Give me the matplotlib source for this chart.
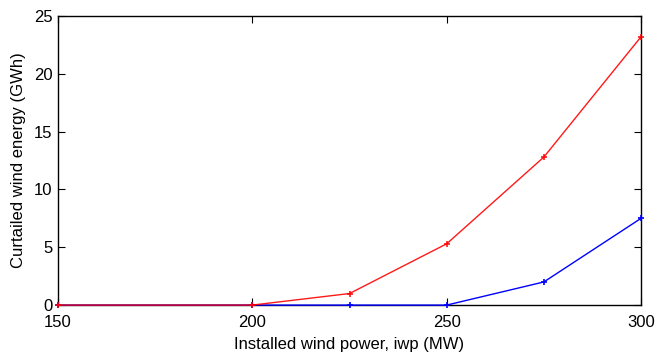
import matplotlib
matplotlib.use("Agg")
import matplotlib.pyplot as plt

iwp = [150, 200, 225, 250, 275, 300]
curtailed_red = [0, 0, 1.0, 5.3, 12.8, 23.2]
curtailed_blue = [0, 0, 0, 0, 2.0, 7.5]
xticks = [150, 200, 250, 300]
yticks = [0, 5, 10, 15, 20, 25]

plt.rcParams['font.family'] = ['Liberation Sans', 'DejaVu Sans']
fig = plt.figure(figsize=(6.67, 3.56), dpi=100)
ax = fig.add_axes([0.087, 0.143, 0.874, 0.812])
ax.plot(iwp, curtailed_blue, color='blue', lw=1, marker='+', ms=4, mew=1.2, clip_on=False, zorder=3)
ax.plot(iwp, curtailed_red, color='red', lw=1, marker='+', ms=4, mew=1.2, alpha=0.9, clip_on=False, zorder=4)
ax.set_xlim(150, 300)
ax.set_ylim(0, 25)
ax.set_xticks(xticks)
ax.set_yticks(yticks)
ax.tick_params(direction='in', top=True, right=True, labelsize=12, length=5, width=0.8)
ax.tick_params(axis='x', pad=7)
ax.tick_params(axis='y', pad=4)
for s in ax.spines.values():
    s.set_linewidth(1.0)
ax.set_xlabel('Installed wind power, iwp (MW)', fontsize=12, labelpad=5)
ax.set_ylabel('Curtailed wind energy (GWh)', fontsize=12, labelpad=6)
fig.savefig('out.png', dpi=100)
